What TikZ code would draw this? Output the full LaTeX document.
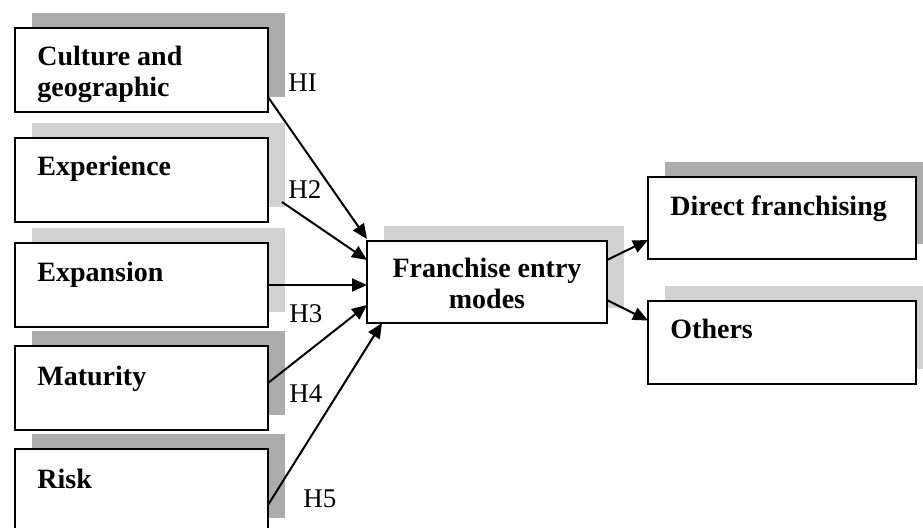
\documentclass[tikz,border=0pt]{standalone}
\usepackage{fontspec}
\setmainfont{Liberation Serif}
\usetikzlibrary{calc,shadows,arrows.meta}
\begin{document}
\begin{tikzpicture}[x=0.5pt,y=-0.5pt,
  box/.style={draw=black, line width=1pt, fill=white, inner sep=0pt, outer sep=0pt,
    anchor=north west, minimum width=126.5pt, minimum height=42pt},
  darksh/.style={drop shadow={shadow xshift=8.5pt, shadow yshift=7.5pt, fill=gray!65, opacity=1}},
  lightsh/.style={drop shadow={shadow xshift=8.5pt, shadow yshift=7.5pt, fill=gray!35, opacity=1}},
  txt/.style={anchor=base west, inner sep=0pt, font=\fontsize{14}{16}\selectfont\bfseries},
  hlab/.style={anchor=base west, inner sep=0pt, font=\fontsize{13.5}{16}\selectfont},
  arr/.style={line width=1pt, -{Triangle[length=7.5pt,width=6.5pt]}}
]
\useasboundingbox (0,0) rectangle (923,527);
% left boxes
\node[box,darksh] (cul) at (15,28) {};
\node[box,lightsh] (exp) at (15,138) {};
\node[box,lightsh] (exn) at (15,243) {};
\node[box,darksh] (mat) at (15,346) {};
\node[box,darksh] (rsk) at (15,449) {};
% central box
\node[box,lightsh, minimum width=120pt, minimum height=41pt] (fem) at (367,241) {};
% right boxes
\node[box,darksh, minimum width=134pt, minimum height=41pt] (dir) at (648,177) {};
\node[box,lightsh, minimum width=134pt, minimum height=41.5pt] (oth) at (648,301) {};
% texts
\node[txt] (t1a) at (37,65) {Culture and};
\node[txt] (t1b) at (37,96) {geographic};
\node[txt] (t2) at (37,175) {Experience};
\node[txt] (t3) at (37,281) {Expansion};
\node[txt] (t4) at (37,385) {Maturity};
\node[txt] (t5) at (37,488) {Risk};
\node[anchor=base, inner sep=0pt, font=\fontsize{14}{16}\selectfont\bfseries] (tf1) at (487,277) {Franchise entry};
\node[anchor=base, inner sep=0pt, font=\fontsize{14}{16}\selectfont\bfseries] (tf2) at (487,308) {modes};
\node[txt] (td) at (670,215) {Direct franchising};
\node[txt] (to) at (670,338) {Others};
% hypothesis labels
\node[hlab] (h1) at (288,91) {HI};
\node[hlab] (h2) at (288,198) {H2};
\node[hlab] (h3) at (289,322) {H3};
\node[hlab] (h4) at (289,402) {H4};
\node[hlab] (h5) at (303,507) {H5};
% arrows
\draw[arr] ($(cul.south east)+(0,-15)$) -- ($(fem.north west)+(0,-2)$);
\draw[arr] ($(exp.south east)+(14,-20)$) -- ($(fem.west)+(0,-22)$);
\draw[arr] (exn.east) -- (exn.east -| fem.west);
\draw[arr] ($(mat.east)+(0,-5)$) -- ($(fem.west)+(0,23)$);
\draw[arr] ($(rsk.east)+(0,14)$) -- ($(fem.south west)+(15,0)$);
\draw[arr] ($(fem.east)+(0,-22)$) -- ($(dir.west)+(0,22)$);
\draw[arr] ($(fem.east)+(0,18)$) -- ($(oth.west)+(0,-22)$);
\end{tikzpicture}
\end{document}
